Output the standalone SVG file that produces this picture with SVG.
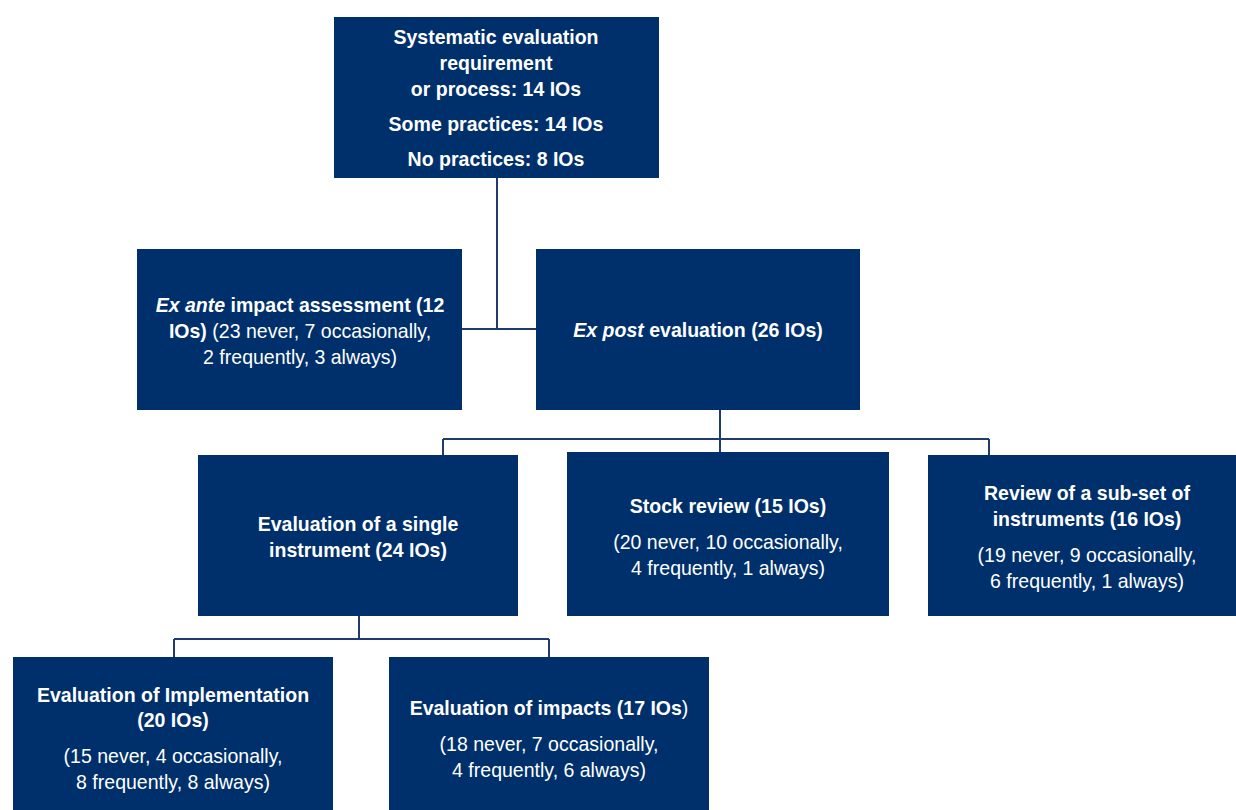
<svg xmlns="http://www.w3.org/2000/svg" width="1236" height="810" viewBox="0 0 1236 810">
<style>
.box{fill:#00306b}
.t{font-family:"Liberation Sans",Arial,sans-serif;font-size:21px;fill:#fff;text-anchor:middle}
.b{font-weight:bold}
.i{font-style:italic}
.n{font-weight:normal}
.c{fill:none;stroke:#1f3b6f;stroke-width:2}
</style>
<rect width="1236" height="810" fill="#fff"/>
<g id="connectors">
<path class="c" d="M497 178V329M462 329H536"/>
<path class="c" d="M720 410V439M443 439H989M443 439V455M720 439V453M989 439V455"/>
<path class="c" d="M359 616V639M174 639H549M174 639V657M549 639V657"/>
</g>
<g id="n-top">
<rect class="box" x="334" y="17" width="325" height="161"/>
<g transform="translate(496 0) scale(0.93 1)" class="t b">
<text x="0" y="44">Systematic evaluation</text>
<text x="0" y="70">requirement</text>
<text x="0" y="96">or process: 14 IOs</text>
<text x="0" y="131">Some practices: 14 IOs</text>
<text x="0" y="166">No practices: 8 IOs</text>
</g>
</g>
<g id="n-exante">
<rect class="box" x="137" y="249" width="325" height="161"/>
<g transform="translate(300 0) scale(0.93 1)" class="t">
<text x="0" y="312" class="b"><tspan class="i">Ex ante</tspan> impact assessment (12</text>
<text x="0" y="338"><tspan class="b">IOs)</tspan> (23 never, 7 occasionally,</text>
<text x="0" y="364">2 frequently, 3 always)</text>
</g>
</g>
<g id="n-expost">
<rect class="box" x="536" y="249" width="324" height="161"/>
<g transform="translate(698 0) scale(0.93 1)" class="t b">
<text x="0" y="337"><tspan class="i">Ex post</tspan> evaluation (26 IOs)</text>
</g>
</g>
<g id="n-single">
<rect class="box" x="198" y="455" width="320" height="161"/>
<g transform="translate(358 0) scale(0.93 1)" class="t b">
<text x="0" y="531">Evaluation of a single</text>
<text x="0" y="557">instrument (24 IOs)</text>
</g>
</g>
<g id="n-stock">
<rect class="box" x="567" y="452" width="322" height="164"/>
<g transform="translate(728 0) scale(0.93 1)" class="t">
<text x="0" y="513" class="b">Stock review (15 IOs)</text>
<text x="0" y="549">(20 never, 10 occasionally,</text>
<text x="0" y="575">4 frequently, 1 always)</text>
</g>
</g>
<g id="n-subset">
<rect class="box" x="928" y="455" width="308" height="161"/>
<g transform="translate(1087 0) scale(0.93 1)" class="t">
<text x="0" y="500" class="b">Review of a sub-set of</text>
<text x="0" y="526" class="b">instruments (16 IOs)</text>
<text x="0" y="562">(19 never, 9 occasionally,</text>
<text x="0" y="588">6 frequently, 1 always)</text>
</g>
</g>
<g id="n-impl">
<rect class="box" x="13" y="657" width="320" height="153"/>
<g transform="translate(173 0) scale(0.93 1)" class="t">
<text x="0" y="702" class="b">Evaluation of Implementation</text>
<text x="0" y="727" class="b">(20 IOs)</text>
<text x="0" y="763">(15 never, 4 occasionally,</text>
<text x="0" y="789">8 frequently, 8 always)</text>
</g>
</g>
<g id="n-impacts">
<rect class="box" x="389" y="657" width="320" height="153"/>
<g transform="translate(549 0) scale(0.93 1)" class="t">
<text x="0" y="715"><tspan class="b">Evaluation of impacts (17 IOs</tspan>)</text>
<text x="0" y="751">(18 never, 7 occasionally,</text>
<text x="0" y="777">4 frequently, 6 always)</text>
</g>
</g>
</svg>
